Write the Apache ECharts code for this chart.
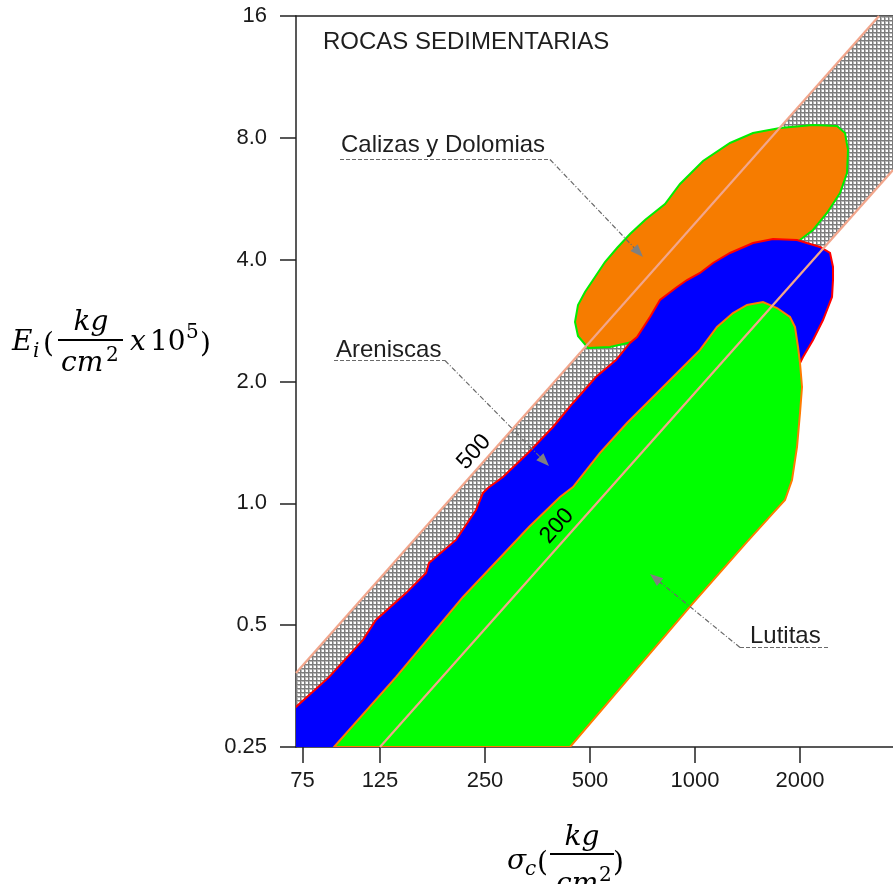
<!DOCTYPE html>
<html>
<head>
<meta charset="utf-8">
<script src="https://cdn.jsdelivr.net/npm/echarts@6/dist/echarts.min.js"></script>
<style>
html,body{margin:0;padding:0;background:#fff;}
#chart{width:893px;height:884px;}
</style>
</head>
<body>
<div id="chart"></div>
<script>
// ---------------- DATA (σc in kg/cm², Ei in kg/cm² x 10^5) ----------------
const sigmaRange = [71.8, 3695];
const eRange = [0.25, 16];
const xTickValues = [75, 125, 250, 500, 1000, 2000];
const xTickLabels = ['75', '125', '250', '500', '1000', '2000'];
const yTickValues = [0.25, 0.5, 1, 2, 4, 8, 16];
const yTickLabels = ['0.25', '0.5', '1.0', '2.0', '4.0', '8.0', '16'];

// modulus-ratio lines
const line500 = [[71.8, 0.381], [3369, 16]];
const line200 = [[125, 0.25], [3695, 6.66]];

// hatched band between the two ratio lines
const hatchBand = [[71.8, 0.381], [3369, 16], [3695, 16], [3695, 6.66], [125, 0.25], [71.8, 0.25]];

// Calizas y Dolomias
const calizas = [
  [452.9, 2.806], [461.9, 3.091], [483.8, 3.328], [516.8, 3.624], [552.0, 3.947],
  [597.6, 4.275], [651.1, 4.629], [718.9, 5.013], [820.3, 5.491], [905.7, 6.152],
  [1054.2, 7.012], [1259.9, 7.768], [1466.5, 8.223], [1752.6, 8.460], [2179.2, 8.606],
  [2553.3, 8.557], [2691.8, 8.223], [2745.6, 7.465], [2727.6, 6.549], [2604.4, 5.845],
  [2390.2, 5.216], [2179.2, 4.736], [2000, 4.474], [1752.6, 4.178], [1033.6, 3.366],
  [743.0, 2.681], [659.8, 2.504], [570.6, 2.434], [493.4, 2.420], [461.9, 2.591]
];

// Areniscas
const areniscas = [
  [60, 0.274], [71.8, 0.314], [89.3, 0.372], [111.7, 0.460], [121.7, 0.515], [148.4, 0.600],
  [169.4, 0.673], [172.7, 0.712], [206.4, 0.812], [235.6, 0.963], [246.7, 1.061],
  [255.0, 1.091], [281.5, 1.162], [334.3, 1.339], [391.6, 1.544], [446.9, 1.770],
  [520.2, 2.052], [593.6, 2.260], [651.1, 2.490], [681.9, 2.576], [743.0, 2.887],
  [793.7, 3.180], [888.0, 3.424], [948.6, 3.563], [1033.6, 3.708], [1126.2, 3.925],
  [1259.9, 4.155], [1466.5, 4.398], [1673.5, 4.499], [1960.8, 4.474], [2282.3, 4.299],
  [2438.0, 4.155], [2486.8, 3.837], [2486.8, 3.563], [2470.4, 3.235], [2327.9, 2.838],
  [2179.2, 2.533], [2040, 2.299], [2000, 2.222], [1811.4, 1.142], [384, 0.25],
  [384, 0.2], [60, 0.2]
];

// Lutitas
const lutitas = [
  [92.3, 0.25], [138.9, 0.372], [216.2, 0.587], [334.3, 0.874], [410.2, 1.037],
  [446.9, 1.097], [534.1, 1.332], [638.3, 1.579], [743.0, 1.800], [888.0, 2.099],
  [1033.6, 2.393], [1156.3, 2.727], [1285.1, 2.953], [1409.6, 3.091], [1566.6, 3.144],
  [1718.3, 3.038], [1872.2, 2.887], [1935.1, 2.727], [1973.8, 2.434], [2000, 2.222],
  [2026.6, 1.938], [2000, 1.672], [1960.8, 1.378], [1897.1, 1.142], [1811.4, 1.019],
  [1673.5, 0.946], [1409.6, 0.803], [986.9, 0.567], [438.2, 0.25]
];

// ---------------- CHART ----------------
const L2 = Math.log2;
const toLog = pts => pts.map(p => [L2(p[0]), L2(p[1])]);

function makePattern() {
  const c = document.createElement('canvas');
  c.width = 4; c.height = 4;
  const g = c.getContext('2d');
  g.fillStyle = '#ffffff'; g.fillRect(0, 0, 4, 4);
  g.fillStyle = '#b8b8b8'; g.fillRect(0, 0, 4, 2); g.fillRect(0, 0, 2, 4);
  g.fillStyle = '#7c7c7c'; g.fillRect(0, 0, 4, 1); g.fillRect(0, 0, 1, 4);
  return c;
}
const hatchPattern = { image: makePattern(), repeat: 'repeat' };

function polySeries(name, pts, fill, stroke, z) {
  const logPts = toLog(pts);
  return {
    type: 'custom', name: name, coordinateSystem: 'cartesian2d', z: z,
    silent: true,
    data: logPts,
    renderItem: function (params, api) {
      if (params.dataIndex !== 0) return null;
      const cs = params.coordSys;
      const points = logPts.map(p => api.coord(p));
      return {
        type: 'polygon',
        shape: { points: points },
        style: { fill: fill, stroke: stroke || null, lineWidth: stroke ? 2 : 0 },
        clipPath: { type: 'rect', shape: { x: cs.x, y: cs.y, width: cs.width, height: cs.height } }
      };
    }
  };
}

function ratioLine(name, pts) {
  return {
    type: 'line', name: name, data: toLog(pts), symbol: 'none', z: 6, silent: true,
    lineStyle: { color: '#f2a68c', width: 2.2 }, clip: true, animation: false
  };
}

const axisColor = '#222';
const tickFont = { fontFamily: '"Liberation Sans", Arial, sans-serif', fontSize: 22, color: '#1a1a1a' };

// ---- graphic helpers (annotations & axis titles) ----
const serif = '"DejaVu Serif", "Liberation Serif", serif';
function t(text, x, base, size, italic, align) {
  return {
    type: 'text', x: x, y: base - 0.33 * size, z: 50,
    style: {
      text: text, fill: '#000',
      font: (italic ? 'italic ' : '') + size + 'px ' + serif,
      textAlign: align || 'left', textVerticalAlign: 'middle'
    }
  };
}
function bar(x1, x2, y) {
  return { type: 'line', z: 50, shape: { x1: x1, y1: y, x2: x2, y2: y }, style: { stroke: '#000', lineWidth: 2.2 } };
}
function lbl(text, x, y) {
  return { type: 'text', x: x, y: y, z: 50, style: { text: text, fill: '#1e1e1e', font: '24px "Liberation Sans", Arial, sans-serif', textVerticalAlign: 'middle' } };
}
function leader(points) {
  const n = points.length;
  const tip = points[n - 1], from = points[n - 2];
  const dx = tip[0] - from[0], dy = tip[1] - from[1];
  const len = Math.sqrt(dx * dx + dy * dy);
  const ux = dx / len, uy = dy / len;
  const L = 13, W = 5;
  const bx = tip[0] - ux * L, by = tip[1] - uy * L;
  const shaftEnd = [tip[0] - ux * (L - 2), tip[1] - uy * (L - 2)];
  const linePts = points.slice(0, n - 1).concat([shaftEnd]);
  return [
    { type: 'polyline', z: 50, shape: { points: linePts }, style: { stroke: '#6a6a6a', lineWidth: 1.2, lineDash: [5, 2, 1, 2], fill: null } },
    { type: 'polygon', z: 50, shape: { points: [tip, [bx - uy * W, by + ux * W], [bx + uy * W, by - ux * W]] }, style: { fill: '#808080' } }
  ];
}
function underline(x1, x2, y) {
  return { type: 'line', z: 50, shape: { x1: x1, y1: y, x2: x2, y2: y }, style: { stroke: '#6a6a6a', lineWidth: 1.2, lineDash: [4, 2] } };
}

const graphics = [
  lbl('ROCAS SEDIMENTARIAS', 323, 42),
  lbl('Calizas y Dolomias', 341, 145),
  underline(340, 550, 159.5),
  ...leader([[550, 159.5], [643, 257]]),
  lbl('Areniscas', 336, 350),
  underline(334, 445, 360.5),
  ...leader([[445, 360.5], [549, 466]]),
  lbl('Lutitas', 750, 636),
  underline(740, 829, 647.5),
  ...leader([[740, 647.5], [650, 574]]),
  // ratio labels
  { type: 'text', x: 474, y: 452, rotation: 48.4 * Math.PI / 180, z: 50,
    style: { text: '500', fill: '#000', font: '23px "Liberation Sans", Arial, sans-serif', textAlign: 'center', textVerticalAlign: 'middle' } },
  { type: 'text', x: 557, y: 526, rotation: 48.4 * Math.PI / 180, z: 50,
    style: { text: '200', fill: '#000', font: '23px "Liberation Sans", Arial, sans-serif', textAlign: 'center', textVerticalAlign: 'middle' } },
  // Y axis title: E_i (kg/cm² x 10^5)
  t('E', 12, 352, 28, true),
  t('i', 33, 358, 20, true),
  t('(', 43, 354, 28, false),
  t('kg', 91, 332, 28, true, 'center'),
  bar(58, 123, 340),
  t('cm', 61, 373, 28, true),
  t('2', 106, 362, 20, false),
  t('x', 130, 352, 28, true),
  t('10', 150, 352, 28, false),
  t('5', 186, 339, 20, false),
  t(')', 200, 354, 28, false),
  // X axis title: σc (kg/cm²)
  t('σ', 507, 871, 28, true),
  t('c', 525, 876, 20, true),
  t('(', 537, 873, 28, false),
  t('kg', 582, 847, 28, true, 'center'),
  bar(550, 614, 854),
  t('cm', 556, 894, 28, true),
  t('2', 599, 882, 20, false),
  t(')', 613, 873, 28, false)
];

const chart = echarts.init(document.getElementById('chart'), null, { renderer: 'canvas' });
chart.setOption({
  animation: false,
  backgroundColor: '#ffffff',
  grid: { left: 296, right: 0, top: 16, bottom: 137, containLabel: false },
  xAxis: [{
    type: 'value', min: L2(sigmaRange[0]), max: L2(sigmaRange[1]),
    axisLine: { show: true, onZero: false, lineStyle: { color: axisColor, width: 1.5 } },
    axisTick: { show: true, length: 16, customValues: xTickValues.map(L2), lineStyle: { color: axisColor, width: 1.5 } },
    axisLabel: Object.assign({
      margin: 23, customValues: xTickValues.map(L2),
      formatter: function (v) {
        let best = 0, bd = 1e9;
        xTickValues.forEach((tv, i) => { const d = Math.abs(L2(tv) - v); if (d < bd) { bd = d; best = i; } });
        return xTickLabels[best];
      }
    }, tickFont),
    splitLine: { show: false }
  }, {
    type: 'value', position: 'top', min: L2(sigmaRange[0]), max: L2(sigmaRange[1]),
    axisLine: { show: true, onZero: false, lineStyle: { color: axisColor, width: 1.5 } },
    axisTick: { show: false }, axisLabel: { show: false }, splitLine: { show: false }
  }],
  yAxis: {
    type: 'value', min: L2(eRange[0]), max: L2(eRange[1]), interval: 1,
    axisLine: { show: true, onZero: false, lineStyle: { color: axisColor, width: 1.5 } },
    axisTick: { show: true, length: 16, lineStyle: { color: axisColor, width: 1.5 } },
    axisLabel: Object.assign({
      margin: 29,
      formatter: function (v) {
        let best = 0, bd = 1e9;
        yTickValues.forEach((tv, i) => { const d = Math.abs(L2(tv) - v); if (d < bd) { bd = d; best = i; } });
        return yTickLabels[best];
      }
    }, tickFont),
    splitLine: { show: false }
  },
  series: [
    polySeries('Banda', hatchBand, hatchPattern, null, 1),
    polySeries('Calizas y Dolomias', calizas, '#f67c00', '#00ee00', 2),
    polySeries('Areniscas', areniscas, '#0000ff', '#ff0000', 3),
    polySeries('Lutitas', lutitas, '#00ff00', '#ff7a00', 4),
    ratioLine('500', line500),
    ratioLine('200', line200)
  ],
  graphic: graphics
});
</script>
</body>
</html>
